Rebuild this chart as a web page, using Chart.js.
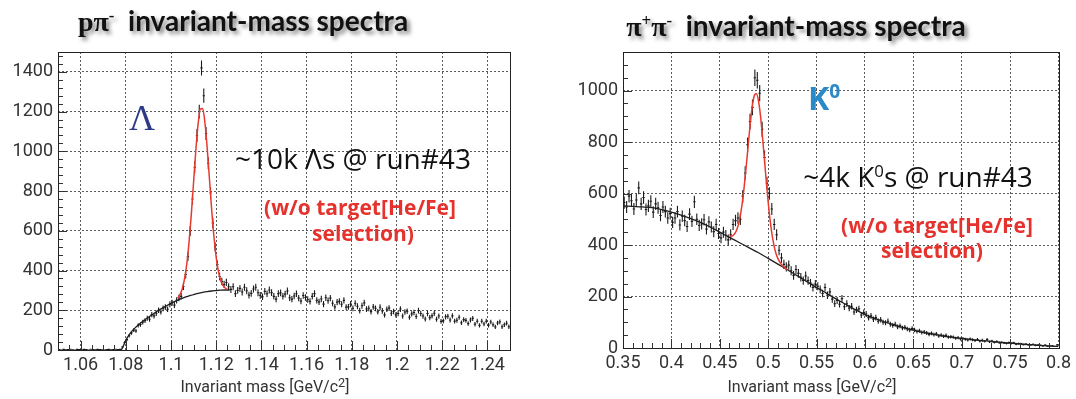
<!DOCTYPE html>
<html><head><meta charset="utf-8">
<script src="https://cdn.jsdelivr.net/npm/chart.js@4.4.1/dist/chart.umd.min.js"></script>
<style>
body{margin:0;background:#fff;width:1076px;height:399px;overflow:hidden;position:relative;font-family:'Open Sans',sans-serif}
canvas{position:absolute;top:0}
.t{position:absolute;transform:translate(-50%,-50%);white-space:nowrap;line-height:1}
.title{font-family:Lato,sans-serif;font-weight:bold;font-size:28px;color:#111;text-shadow:3px 3px 4px rgba(0,0,0,0.5)}
.serif{font-family:'Liberation Serif',serif;font-weight:bold}
.red{color:#e5322d;font-weight:bold;font-size:21px}
.ann{color:#111;font-size:28px}
.xt{font-family:Roboto,sans-serif;font-size:16px;color:#333}
sup{font-size:60%;vertical-align:0.6em;line-height:0}
</style></head><body>
<canvas id="c1" width="540" height="399" style="left:0"></canvas>
<canvas id="c2" width="536" height="399" style="left:540px"></canvas>

<div class="t title" style="left:243px;top:21px"><span class="serif">pπ<sup>-</sup></span>&nbsp;&nbsp;invariant-mass spectra</div>
<div class="t" style="left:142px;top:118px;font-family:'Liberation Serif',serif;font-size:36px;color:#2e3a87">Λ</div>
<div class="t ann" style="left:353px;top:158px">~10k Λs @ run#43</div>
<div class="t red" style="left:360px;top:207px">(w/o target[He/Fe]</div>
<div class="t red" style="left:363px;top:233px">selection)</div>
<div class="t xt" style="left:265px;top:387px">Invariant mass [GeV/c<sup style="font-size:80%;vertical-align:0.4em">2</sup>]</div>

<div class="t title" style="left:796px;top:26px"><span class="serif">π<sup>+</sup>π<sup>-</sup></span>&nbsp;&nbsp;invariant-mass spectra</div>
<div class="t" style="left:824px;top:98px;font-size:32px;font-weight:bold;color:#2a8ac8">K<sup>0</sup></div>
<div class="t ann" style="left:918px;top:176px">~4k K<sup>0</sup>s @ run#43</div>
<div class="t red" style="left:937px;top:225px">(w/o target[He/Fe]</div>
<div class="t red" style="left:932px;top:250px">selection)</div>
<div class="t xt" style="left:812px;top:387px">Invariant mass [GeV/c<sup style="font-size:80%;vertical-align:0.4em">2</sup>]</div>

<script>
// ---------- Left panel: p pi- ----------
const leftBinStart = 1.05;
const leftBinWidth = 0.001;
const leftCounts = [
 2,0,3,1,2,4,1,0,3,2,1,3,2,0,4,2,1,3,2,1,0,2,3,1,2,4,2,3,
 15,38,52,72,86,100,96,124,128,140,148,160,155,178,172,185,200,192,210,216,
 205,230,238,226,250,262,270,320,380,470,600,760,920,1080,1200,1420,1280,1090,940,790,
 640,520,430,370,345,330,340,318,305,
 318,284,300,
 310,292,316,298,276,285,307,316,288,275,
 268,295,283,302,289,270,256,284,288,271,
 281,297,263,256,272,283,261,246,274,264,
 254,245,270,284,250,242,257,231,263,248,
 261,235,217,241,245,230,250,216,217,231,
 210,235,220,198,223,237,206,210,193,217,
 210,192,215,197,177,205,211,185,194,177,
 184,206,171,191,195,165,182,189,169,198,
 184,171,156,184,163,172,185,155,171,144,
 147,167,170,151,172,145,150,165,137,153,
 149,133,151,159,130,145,124,145,131,145,
 125,141,127,116,136,142,117,127,135,117
];
const leftSignalFitX = [1.103,1.104,1.105,1.106,1.107,1.108,1.109,1.110,1.111,1.112,1.113,1.114,1.115,1.116,1.117,1.118,1.119,1.120,1.121,1.122,1.123,1.124,1.125];
const leftSignalFit  = [262,280,308,359,435,544,684,846,1007,1138,1214,1216,1145,1019,863,706,570,466,394,350,325,312,306];
const leftBkgFitX = [1.078,1.079,1.080,1.082,1.084,1.086,1.088,1.090,1.092,1.094,1.096,1.098,1.100,1.102,1.104,1.106,1.108,1.110,1.112,1.114,1.116,1.118,1.120,1.122,1.124,1.126];
const leftBkgFit  = [0,22,50,85,110,130,148,165,180,196,210,223,235,246,256,265,272,279,285,290,294,297,299,301,302,302];
const leftXTicks = [1.06,1.08,1.1,1.12,1.14,1.16,1.18,1.2,1.22,1.24];
const leftYTicks = [0,200,400,600,800,1000,1200,1400];

// ---------- Right panel: pi+ pi- ----------
const rightBinStart = 0.35;
const rightBinWidth = 0.0025;
const rightCounts = [
 565,548,590,572, 540,575,622,560, 585,538,552,570, 528,560,545,515,
 548,530,505,522, 488,505,530,478, 512,495,472,520, 492,568,500,476,
 482,498,462,490, 470,452,480,445, 428,450,438,420,
 440,480,495,505, 500,590,680,790, 880,935,1050,1040, 990,850,740,640,
 600,540,480,440, 380,350,325,315,
 322,300,282,305, 290,275,262,280, 262,252,235,248, 240,228,212,235,
 205,218,190,172, 185,170,192,160, 172,155,162,140, 148,152,128,138,
 132,118,125,112, 118,104,110,100, 98,104,92,88, 92,82,86,78,
 80,74,70,76, 70,64,67,60, 62,58,53,57, 52,55,47,50,
 46,49,42,44, 42,38,40,35, 37,34,31,35, 32,29,33,27,
 30,26,33,24, 27,22,25,21, 22,20,18,21, 18,20,15,17,
 16,13,15,12, 12,14,10,11, 10,8,11,7, 8,9,6,12
];
const rightSignalFitX = [0.460,0.462,0.464,0.466,0.468,0.470,0.472,0.474,0.476,0.478,0.480,0.482,0.484,0.486,0.488,0.490,0.492,0.494,0.496,0.498,0.500,0.502,0.504,0.506,0.508,0.510,0.512,0.514,0.516,0.518,0.520];
const rightSignalFit  = [434,434,438,447,464,491,532,586,655,733,814,889,949,984,988,960,904,826,739,649,567,497,441,399,368,348,334,323,316,309,304];
const rightBkgFitX = [0.35,0.36,0.37,0.38,0.39,0.40,0.41,0.42,0.43,0.44,0.45,0.46,0.47,0.48,0.49,0.50,0.51,0.52,0.53,0.54,0.55,0.56,0.57,0.58,0.59,0.60,0.61,0.62,0.63,0.64,0.65,0.66,0.67,0.68,0.69,0.70,0.71,0.72,0.73,0.74,0.75,0.76,0.77,0.78,0.79,0.80];
const rightBkgFit  = [552,550,548,545,538,528,516,503,488,470,450,430,410,390,370,348,326,304,281,258,235,213,191,170,149,130,115,102,90,79,69,61,54,47,42,37,33,29,26,22,19,16,13,11,8,6];
const rightXTicks = [0.35,0.4,0.45,0.5,0.55,0.6,0.65,0.7,0.75,0.8];
const rightYTicks = [0,200,400,600,800,1000];

// Build histogram error-bar polyline (vertical +-sqrt(N) and horizontal bin width), broken by gaps
function histPoints(start, width, counts) {
  const pts = [];
  counts.forEach((v, i) => {
    const c = start + (i + 0.5) * width;
    const e = Math.sqrt(v);
    pts.push({x: c, y: v - e}, {x: c, y: v + e}, {x: c, y: null});
    pts.push({x: c - width / 2, y: v}, {x: c + width / 2, y: v}, {x: c, y: null});
  });
  return pts;
}
function curve(xs, ys) { return xs.map((x, i) => ({x, y: ys[i]})); }

const rootFrame = {
  id: 'rootFrame',
  afterDatasetsDraw(chart, args, o) {
    const {ctx, chartArea: a, scales: {x, y}} = chart;
    ctx.save();
    ctx.strokeStyle = '#333';
    ctx.lineWidth = 1;
    ctx.beginPath();
    const kx0 = Math.ceil(x.min / o.xMinor - 1e-6), kx1 = Math.floor(x.max / o.xMinor + 1e-6);
    for (let k = kx0; k <= kx1; k++) {
      const v = k * o.xMinor;
      const r = v / o.xMajor;
      const major = Math.abs(r - Math.round(r)) < 1e-6;
      const px = Math.round(x.getPixelForValue(v)) + 0.5;
      ctx.moveTo(px, a.bottom);
      ctx.lineTo(px, a.bottom - (major ? 9 : 5));
    }
    const ky0 = Math.ceil(y.min / o.yMinor - 1e-6), ky1 = Math.floor(y.max / o.yMinor + 1e-6);
    for (let k = ky0; k <= ky1; k++) {
      const v = k * o.yMinor;
      const major = (v % o.yMajor) === 0;
      const py = Math.round(y.getPixelForValue(v)) + 0.5;
      ctx.moveTo(a.left, py);
      ctx.lineTo(a.left + (major ? 9 : 5), py);
    }
    ctx.stroke();
    ctx.strokeStyle = '#222';
    ctx.strokeRect(Math.round(a.left) + 0.5, Math.round(a.top) + 0.5, Math.round(a.right - a.left), Math.round(a.bottom - a.top));
    ctx.restore();
  }
};

const fmt = v => String(parseFloat(Number(v).toFixed(4)));

function makePanel(id, p) {
  new Chart(document.getElementById(id), {
    type: 'scatter',
    data: {
      datasets: [
        {data: curve(p.sigX, p.sig), showLine: true, borderColor: '#e8392e', borderWidth: 1.5, pointRadius: 0, cubicInterpolationMode: 'monotone', order: 0},
        {data: curve(p.bkgX, p.bkg), showLine: true, borderColor: '#1e1e1e', borderWidth: 1.3, pointRadius: 0, cubicInterpolationMode: 'monotone', order: 1},
        {data: histPoints(p.start, p.width, p.counts), showLine: true, spanGaps: false, borderColor: '#1a1a1a', borderWidth: 1.1, pointRadius: 0, order: 2}
      ]
    },
    options: {
      responsive: false,
      animation: false,
      events: [],
      layout: {padding: {left: 0, right: p.padRight, top: 52, bottom: 0}},
      plugins: {legend: {display: false}, tooltip: {enabled: false}, rootFrame: p.ticks},
      scales: {
        x: {
          type: 'linear', min: p.xMin, max: p.xMax,
          afterFit: s => { s.height = p.xAxisH; },
          afterBuildTicks: s => { s.ticks = p.xTicks.map(v => ({value: v})); },
          grid: {color: 'rgba(50,50,50,0.8)', lineWidth: 1, drawTicks: false},
          border: {display: false, dash: [2, 2]},
          ticks: {autoSkip: false, maxRotation: 0, padding: 5,
                  color: '#333', font: {family: 'Roboto', size: 18}, callback: v => fmt(v)}
        },
        y: {
          min: 0, max: p.yMax,
          afterFit: s => { s.width = p.yAxisW; },
          afterBuildTicks: s => { s.ticks = p.yTicks.map(v => ({value: v})); },
          grid: {color: 'rgba(50,50,50,0.8)', lineWidth: 1, drawTicks: false},
          border: {display: false, dash: [2, 2]},
          ticks: {autoSkip: false, padding: 5,
                  color: '#333', font: {family: 'Roboto', size: 18}, callback: v => String(v)}
        }
      }
    },
    plugins: [rootFrame]
  });
}

makePanel('c1', {
  start: leftBinStart, width: leftBinWidth, counts: leftCounts,
  sigX: leftSignalFitX, sig: leftSignalFit, bkgX: leftBkgFitX, bkg: leftBkgFit,
  xTicks: leftXTicks, yTicks: leftYTicks,
  xMin: 1.05, xMax: 1.25, yMax: 1500,
  padRight: 30, xAxisH: 49, yAxisW: 58,
  ticks: {xMinor: 0.005, xMajor: 0.02, yMinor: 40, yMajor: 200}
});
makePanel('c2', {
  start: rightBinStart, width: rightBinWidth, counts: rightCounts,
  sigX: rightSignalFitX, sig: rightSignalFit, bkgX: rightBkgFitX, bkg: rightBkgFit,
  xTicks: rightXTicks, yTicks: rightYTicks,
  xMin: 0.35, xMax: 0.8, yMax: 1150,
  padRight: 14, xAxisH: 51, yAxisW: 83,
  ticks: {xMinor: 0.01, xMajor: 0.05, yMinor: 50, yMajor: 200}
});
</script>
</body></html>
